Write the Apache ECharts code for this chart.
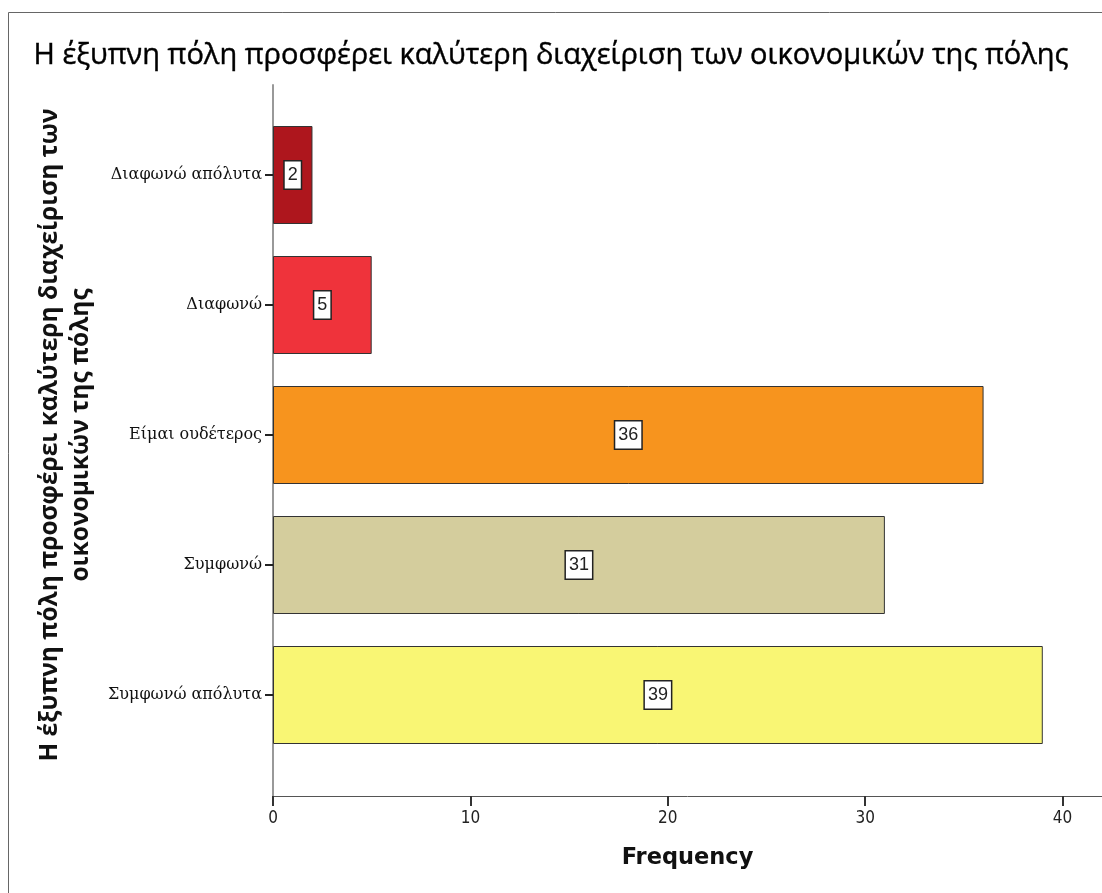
<!DOCTYPE html>
<html>
<head>
<meta charset="utf-8">
<script src="https://cdn.jsdelivr.net/npm/echarts@6/dist/echarts.min.js"></script>
<style>
html,body{margin:0;padding:0;background:#fff;}
#c{width:1102px;height:893px;}
</style>
</head>
<body>
<div id="c"></div>
<script>
const categories = ['Διαφωνώ απόλυτα', 'Διαφωνώ', 'Είμαι ουδέτερος', 'Συμφωνώ', 'Συμφωνώ απόλυτα'];
const frequencies = [2, 5, 36, 31, 39];
const barColors = ['#ae161d', '#ef333b', '#f7941e', '#d4cd9d', '#f9f674'];
const xTicks = [0, 10, 20, 30, 40];
const titleText = 'Η έξυπνη πόλη προσφέρει καλύτερη διαχείριση των οικονομικών της πόλης';
const yName = 'Η έξυπνη πόλη προσφέρει καλύτερη διαχείριση των\nοικονομικών της πόλης';
const xName = 'Frequency';

const chart = echarts.init(document.getElementById('c'), null, {renderer: 'canvas'});
const xMax = 42;
chart.setOption({
  backgroundColor: '#fff',
  animation: false,
  title: {
    text: titleText, left: 'center', top: 36,
    textStyle: {fontFamily: 'Open Sans', fontSize: 29, fontWeight: 'normal', color: '#000',
      textBorderColor: '#000', textBorderWidth: 0.4}
  },
  graphic: [{
    type: 'rect', shape: {x: 8.5, y: 12.5, width: 1200, height: 1000},
    style: {fill: 'none', stroke: '#666', lineWidth: 1}, silent: true
  }],
  grid: [
    {left: 273, right: 0, top: 85, bottom: 97},
    {left: 273, right: 0, top: 110, bottom: 133}
  ],
  xAxis: [
    {
      gridIndex: 0, type: 'value', min: 0, max: xMax, interval: 10,
      axisLine: {show: true, lineStyle: {color: '#555', width: 1}},
      axisTick: {show: true, length: 10, customValues: xTicks, lineStyle: {color: '#333', width: 2}},
      axisLabel: {
        color: '#222', fontFamily: 'DejaVu Sans Condensed, DejaVu Sans', fontSize: 17, margin: 14,
        customValues: xTicks
      },
      splitLine: {show: false},
      name: xName, nameLocation: 'middle', nameGap: 51,
      nameTextStyle: {fontFamily: 'DejaVu Sans', fontWeight: 'bold', fontSize: 22.5, color: '#111'}
    },
    {
      gridIndex: 1, type: 'value', min: 0, max: xMax, show: false
    }
  ],
  yAxis: [
    {
      gridIndex: 0, type: 'value', min: 0, max: 1,
      axisLine: {show: true, lineStyle: {color: '#999', width: 2}},
      axisTick: {show: false}, axisLabel: {show: false}, splitLine: {show: false}
    },
    {
      gridIndex: 1, type: 'category', data: categories, inverse: true,
      axisLine: {show: false},
      axisTick: {show: true, alignWithLabel: true, length: 8, lineStyle: {color: '#222', width: 2}},
      axisLabel: {color: '#111', fontFamily: 'DejaVu Serif', fontSize: 16, margin: 11},
      name: yName, nameLocation: 'middle', nameRotate: 90, nameGap: 176,
      nameTextStyle: {fontFamily: 'Open Sans', fontWeight: 'bold', fontSize: 24.5, color: '#111', lineHeight: 31, align: 'center'}
    }
  ],
  series: [{
    type: 'bar', xAxisIndex: 1, yAxisIndex: 1, barWidth: 98,
    data: frequencies.map((v, i) => ({value: v, itemStyle: {color: barColors[i]}})),
    itemStyle: {borderColor: '#333', borderWidth: 1},
    label: {
      show: true, position: 'inside', color: '#222', fontFamily: 'Liberation Sans', fontSize: 18,
      backgroundColor: '#fff', borderColor: '#222', borderWidth: 1.5, padding: [5, 3, 4, 3]
    }
  }]
});
</script>
</body>
</html>
